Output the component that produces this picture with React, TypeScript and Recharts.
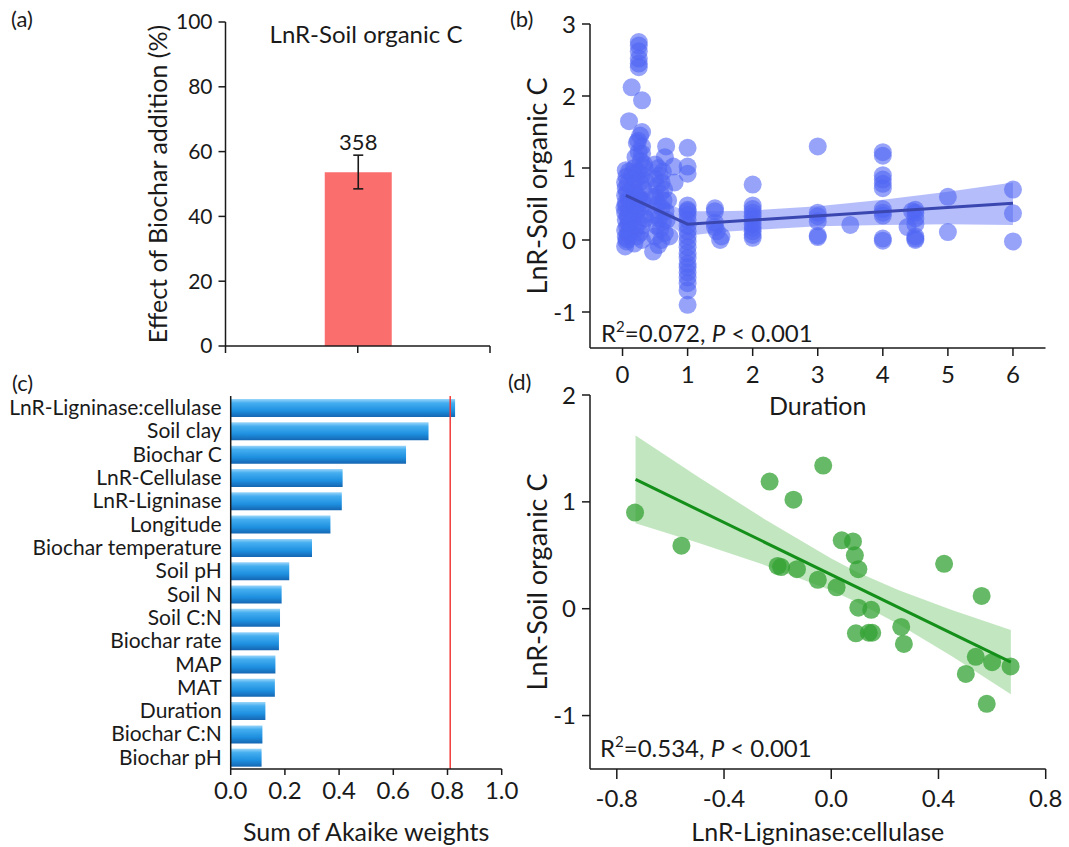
import React from "react";
import {
  ComposedChart,
  BarChart,
  Bar,
  ErrorBar,
  LabelList,
  XAxis,
  YAxis,
  Scatter,
  Area,
  ReferenceLine,
} from "recharts";

const FONT = "Lato, 'Open Sans', sans-serif";
const INK = "#1a1a1a";

// (a) overall effect
const effectTicks = [0, 20, 40, 60, 80, 100];
const effectData = [{ pos: 1, effect: 53.6, err: [5.1, 5.3], n: 358 }];

// (b) LnR-SOC vs duration
const durationTicks = [0, 1, 2, 3, 4, 5, 6];
const socTicksB = [-1, 0, 1, 2, 3];
const pointsB: [number, number][] = [
  [0.04, -0.09], [0.06, -0.02], [0.05, 0.04], [0.08, 0.09], [0.04, 0.14], [0.07, 0.19],
  [0.1, 0.23], [0.05, 0.28], [0.08, 0.33], [0.04, 0.38], [0.1, 0.42], [0.06, 0.47],
  [0.05, 0.52], [0.09, 0.57], [0.04, 0.62], [0.07, 0.66], [0.05, 0.72], [0.08, 0.78],
  [0.04, 0.8], [0.06, 0.88], [0.1, 0.95], [0.05, 0.97], [0.1, 1.65], [0.14, 2.12],
  [0.09, 0.3], [0.11, 0.12], [0.12, 0.55], [0.03, 0.45], [0.07, 0.01],
  [0.25, 2.75], [0.25, 2.7], [0.25, 2.62], [0.25, 2.52], [0.25, 2.45], [0.25, 2.4],
  [0.3, 1.94], [0.3, 1.5], [0.27, 1.45], [0.22, 1.35], [0.3, 1.3], [0.25, 1.22],
  [0.2, 1.15], [0.28, 1.1], [0.33, 1.05], [0.18, 1.0], [0.25, 0.95], [0.3, 0.9],
  [0.22, 0.85], [0.27, 0.8], [0.17, 0.75], [0.32, 0.7], [0.2, 0.65], [0.25, 0.6],
  [0.3, 0.55], [0.18, 0.5], [0.28, 0.45], [0.22, 0.4], [0.33, 0.35], [0.16, 0.3],
  [0.25, 0.25], [0.3, 0.2], [0.2, 0.15], [0.27, 0.1], [0.22, 0.05], [0.3, 0.0],
  [0.18, -0.05], [0.25, 0.58], [0.35, 0.82], [0.15, 0.92], [0.35, 0.3], [0.2, 0.48],
  [0.3, 1.2], [0.24, 1.38], [0.34, 1.0],
  [0.47, -0.16], [0.55, -0.07], [0.6, 0.0], [0.5, 0.05], [0.65, 0.1], [0.58, 0.15],
  [0.52, 0.2], [0.62, 0.25], [0.56, 0.3], [0.5, 0.35], [0.66, 0.4], [0.6, 0.45],
  [0.54, 0.5], [0.63, 0.55], [0.5, 0.6], [0.58, 0.65], [0.64, 0.7], [0.53, 0.75],
  [0.6, 0.8], [0.5, 0.85], [0.57, 0.9], [0.62, 0.95], [0.5, 1.05], [0.67, 1.3],
  [0.65, 1.15], [0.78, 1.02], [0.8, 0.8], [0.72, 0.05], [0.7, 0.55], [0.55, 1.0],
  [0.45, 0.6], [0.68, 0.28],
  [1, 1.28], [1, 1.02], [1, 0.92], [1, 0.48], [1, 0.42], [1, 0.35], [1, 0.28], [1, 0.2],
  [1, 0.12], [1, 0.05], [1, -0.02], [1, -0.1], [1, -0.18], [1, -0.25], [1, -0.33],
  [1, -0.45], [1, -0.52], [1, -0.6], [1, -0.7], [1, -0.9], [1, 0.4], [1, -0.38],
  [1.42, 0.44], [1.42, 0.4], [1.42, 0.24], [1.42, 0.18], [1.45, 0.12], [1.52, 0.05], [1.5, 0.0],
  [2, 0.77], [2, 0.48], [2, 0.43], [2, 0.38], [2, 0.33], [2, 0.28], [2, 0.22], [2, 0.17],
  [2, 0.12], [2, 0.07], [2, 0.03],
  [3, 1.3], [3, 0.38], [3, 0.33], [3, 0.26], [3, 0.06], [3, 0.04], [3.5, 0.21],
  [4, 1.22], [4, 1.17], [4, 0.9], [4, 0.84], [4, 0.78], [4, 0.72], [4, 0.43], [4, 0.38],
  [4, 0.34], [4, 0.02], [4, -0.01],
  [4.5, 0.42], [4.5, 0.38], [4.5, 0.3], [4.5, 0.22], [4.38, 0.18], [4.5, 0.05],
  [4.5, 0.02], [4.5, 0.0], [4.45, 0.4],
  [5, 0.6], [5, 0.11], [6, 0.7], [6, 0.37], [6, -0.02],
];
const fitB = [
  { x: 0.05, y: 0.62 },
  { x: 1, y: 0.22 },
  { x: 6, y: 0.51 },
];
const bandB = [
  { x: 0.05, band: [0.48, 0.76] },
  { x: 0.5, band: [0.3, 0.56] },
  { x: 1, band: [0.06, 0.4] },
  { x: 1.5, band: [0.11, 0.4] },
  { x: 2, band: [0.14, 0.41] },
  { x: 3, band: [0.19, 0.47] },
  { x: 4, band: [0.21, 0.56] },
  { x: 5, band: [0.22, 0.67] },
  { x: 6, band: [0.21, 0.8] },
];

// (c) relative importance
const predictors = [
  "LnR-Ligninase:cellulase", "Soil clay", "Biochar C", "LnR-Cellulase", "LnR-Ligninase",
  "Longitude", "Biochar temperature", "Soil pH", "Soil N", "Soil C:N", "Biochar rate",
  "MAP", "MAT", "Duration", "Biochar C:N", "Biochar pH",
];
const akaikeWeights = [
  0.828, 0.73, 0.647, 0.413, 0.41, 0.368, 0.3, 0.216, 0.188, 0.182, 0.178,
  0.165, 0.163, 0.128, 0.117, 0.114,
];
const weightTicks = [0, 0.2, 0.4, 0.6, 0.8, 1.0];

// (d) LnR-SOC vs LnR-Ligninase:cellulase
const ratioTicks = [-0.8, -0.4, 0, 0.4, 0.8];
const socTicksD = [-1, 0, 1, 2];
const pointsD: [number, number][] = [
  [-0.732, 0.9], [-0.559, 0.59], [-0.23, 1.19], [-0.141, 1.02], [-0.03, 1.34],
  [-0.2, 0.4], [-0.187, 0.39], [-0.128, 0.37], [-0.05, 0.27], [0.02, 0.2],
  [0.039, 0.64], [0.081, 0.63], [0.088, 0.5], [0.101, 0.37], [0.101, 0.01],
  [0.149, -0.01], [0.092, -0.23], [0.14, -0.225], [0.153, -0.225], [0.261, -0.17],
  [0.271, -0.33], [0.421, 0.42], [0.561, 0.12], [0.539, -0.45], [0.502, -0.61],
  [0.6, -0.5], [0.669, -0.54], [0.58, -0.89],
];
const fitD = [
  { x: -0.73, y: 1.21 },
  { x: 0.67, y: -0.5 },
];
const bandD = [
  { x: -0.73, band: [0.8, 1.62] },
  { x: -0.5, band: [0.62, 1.24] },
  { x: -0.25, band: [0.41, 0.84] },
  { x: 0, band: [0.17, 0.47] },
  { x: 0.1, band: [0.055, 0.34] },
  { x: 0.25, band: [-0.144, 0.174] },
  { x: 0.45, band: [-0.445, -0.013] },
  { x: 0.67, band: [-0.8, -0.2] },
];

const axisLine = { stroke: INK, strokeWidth: 1.5 };
const tickLine = { stroke: INK, strokeWidth: 1.5 };

const PanelTag = ({ text, left, top }: { text: string; left: number; top: number }) => (
  <div style={{ position: "absolute", left, top, fontSize: 22, lineHeight: "24px", color: INK }}>{text}</div>
);

const Stat = ({ r2, left, top }: { r2: string; left: number; top: number }) => (
  <div style={{ position: "absolute", left, top, fontSize: 24, lineHeight: "24px", color: INK, whiteSpace: "nowrap" }}>
    R<span style={{ fontSize: 15, position: "relative", top: -10 }}>2</span>={r2}, <i>P</i> &lt; 0.001
  </div>
);

const dot = (fill: string, opacity: number) => (p: any) =>
  <circle cx={p.cx} cy={p.cy} r={9} fill={fill} fillOpacity={opacity} />;
const noDot = () => <g />;

export default function App() {
  const scatterB = pointsB.map(([x, y]) => ({ x, y }));
  const scatterD = pointsD.map(([x, y]) => ({ x, y }));
  const importance = predictors.map((name, i) => ({ name, w: akaikeWeights[i] }));

  return (
    <div style={{ position: "absolute", left: 0, top: 0, width: 1069, height: 847, background: "#fff", fontFamily: FONT, color: INK }}>
      {/* (a) */}
      <div style={{ position: "absolute", left: 0, top: 0 }}>
        <ComposedChart width={510} height={370} data={effectData} margin={{ top: 22, right: 20, bottom: 0, left: 0 }}>
          <XAxis dataKey="pos" type="number" domain={[0, 2]} ticks={[0, 1, 2]} interval={0}
            tickFormatter={() => ""} height={24} axisLine={axisLine} tickLine={tickLine} tickSize={7} />
          <YAxis type="number" domain={[0, 100]} ticks={effectTicks} interval={0} width={225.5}
            axisLine={axisLine} tickLine={tickLine} tickSize={7} tickMargin={6}
            tick={{ fontSize: 21, fill: INK }}
            label={{ value: "Effect of Biochar addition (%)", angle: -90, position: "insideLeft", offset: 158,
              style: { textAnchor: "middle" }, fontSize: 25, fill: INK }} />
          <Bar dataKey="effect" barSize={67} fill="#fb6e6e" isAnimationActive={false}>
            <ErrorBar dataKey="err" width={5} strokeWidth={1.6} stroke={INK} direction="y" />
            <LabelList dataKey="n" position="top" offset={22} fontSize={22} fill={INK} />
          </Bar>
        </ComposedChart>
      </div>
      <PanelTag text="(a)" left={11} top={7} />
      <div style={{ position: "absolute", left: 246, top: 21, width: 240, textAlign: "center", fontSize: 24, lineHeight: "26px" }}>
        LnR-Soil organic C
      </div>

      {/* (b) */}
      <div style={{ position: "absolute", left: 500, top: 0 }}>
        <ComposedChart width={569} height={420} margin={{ top: 24, right: 23.5, bottom: 0, left: 0 }}>
          <XAxis dataKey="x" type="number" domain={[-0.5, 6.5]} ticks={durationTicks} interval={0}
            height={72} axisLine={axisLine} tickLine={tickLine} tickSize={8} tickMargin={10}
            tick={{ fontSize: 24, fill: INK }}
            label={{ value: "Duration", position: "insideBottom", offset: 5, fontSize: 25, fill: INK }} />
          <YAxis dataKey="y" type="number" domain={[-1.5, 3]} ticks={socTicksB} interval={0} width={90}
            axisLine={axisLine} tickLine={tickLine} tickSize={8} tickMargin={6}
            tick={{ fontSize: 24, fill: INK }}
            label={{ value: "LnR-Soil organic C", angle: -90, position: "insideLeft", offset: 37,
              style: { textAnchor: "middle" }, fontSize: 27, fill: INK }} />
          <Area data={bandB} dataKey="band" type="linear" stroke="none" fill="#5a6ff5" fillOpacity={0.45}
            isAnimationActive={false} />
          <Scatter data={scatterB} shape={dot("#5066f4", 0.6)} isAnimationActive={false} />
          <Scatter data={fitB} shape={noDot} line={{ stroke: "#3a47b0", strokeWidth: 3 }} lineType="joint"
            isAnimationActive={false} />
        </ComposedChart>
      </div>
      <PanelTag text="(b)" left={510} top={7} />
      <Stat r2="0.072" left={601} top={321} />

      {/* (c) */}
      <div style={{ position: "absolute", left: 0, top: 370 }}>
        <BarChart width={530} height={477} layout="vertical" data={importance}
          margin={{ top: 26, right: 28.3, bottom: 0, left: 0 }} barCategoryGap={2}>
          <defs>
            <linearGradient id="cylinder" x1="0" y1="0" x2="0" y2="1">
              <stop offset="0%" stopColor="#9ad6fa" />
              <stop offset="22%" stopColor="#45aef0" />
              <stop offset="65%" stopColor="#1e90e0" />
              <stop offset="100%" stopColor="#1566b2" />
            </linearGradient>
          </defs>
          <XAxis type="number" domain={[0, 1]} ticks={weightTicks} interval={0} height={78}
            tickFormatter={(v: number) => v.toFixed(1)} axisLine={axisLine} tickLine={tickLine}
            tickSize={6} tickMargin={7} tick={{ fontSize: 24, fill: INK }}
            label={{ value: "Sum of Akaike weights", position: "insideBottom", offset: 6, fontSize: 25, fill: INK }} />
          <YAxis type="category" dataKey="name" width={230.7} interval={0} axisLine={axisLine}
            tickLine={false} tickSize={0} tickMargin={9} tick={{ fontSize: 21, fill: INK }} />
          <Bar dataKey="w" barSize={18} fill="url(#cylinder)" isAnimationActive={false} />
          <ReferenceLine x={0.81} stroke="#f23a3a" strokeWidth={1.5} />
        </BarChart>
      </div>
      <PanelTag text="(c)" left={12} top={371} />

      {/* (d) */}
      <div style={{ position: "absolute", left: 500, top: 380 }}>
        <ComposedChart width={569} height={467} margin={{ top: 15, right: 23.3, bottom: 0, left: 0 }}>
          <XAxis dataKey="x" type="number" domain={[-0.9, 0.8]} ticks={ratioTicks} interval={0}
            tickFormatter={(v: number) => v.toFixed(1)} height={78} axisLine={axisLine} tickLine={tickLine}
            tickSize={10} tickMargin={11} tick={{ fontSize: 24, fill: INK }}
            label={{ value: "LnR-Ligninase:cellulase", position: "insideBottom", offset: 6, fontSize: 25, fill: INK }} />
          <YAxis dataKey="y" type="number" domain={[-1.5, 2]} ticks={socTicksD} interval={0} width={90}
            axisLine={axisLine} tickLine={tickLine} tickSize={8} tickMargin={6}
            tick={{ fontSize: 24, fill: INK }}
            label={{ value: "LnR-Soil organic C", angle: -90, position: "insideLeft", offset: 37,
              style: { textAnchor: "middle" }, fontSize: 27, fill: INK }} />
          <Area data={bandD} dataKey="band" type="linear" stroke="none" fill="#8fd18a" fillOpacity={0.55}
            isAnimationActive={false} />
          <Scatter data={scatterD} shape={dot("#33a133", 0.75)} isAnimationActive={false} />
          <Scatter data={fitD} shape={noDot} line={{ stroke: "#14901a", strokeWidth: 3 }} lineType="joint"
            isAnimationActive={false} />
        </ComposedChart>
      </div>
      <PanelTag text="(d)" left={508} top={370} />
      <Stat r2="0.534" left={600} top={736} />
    </div>
  );
}
